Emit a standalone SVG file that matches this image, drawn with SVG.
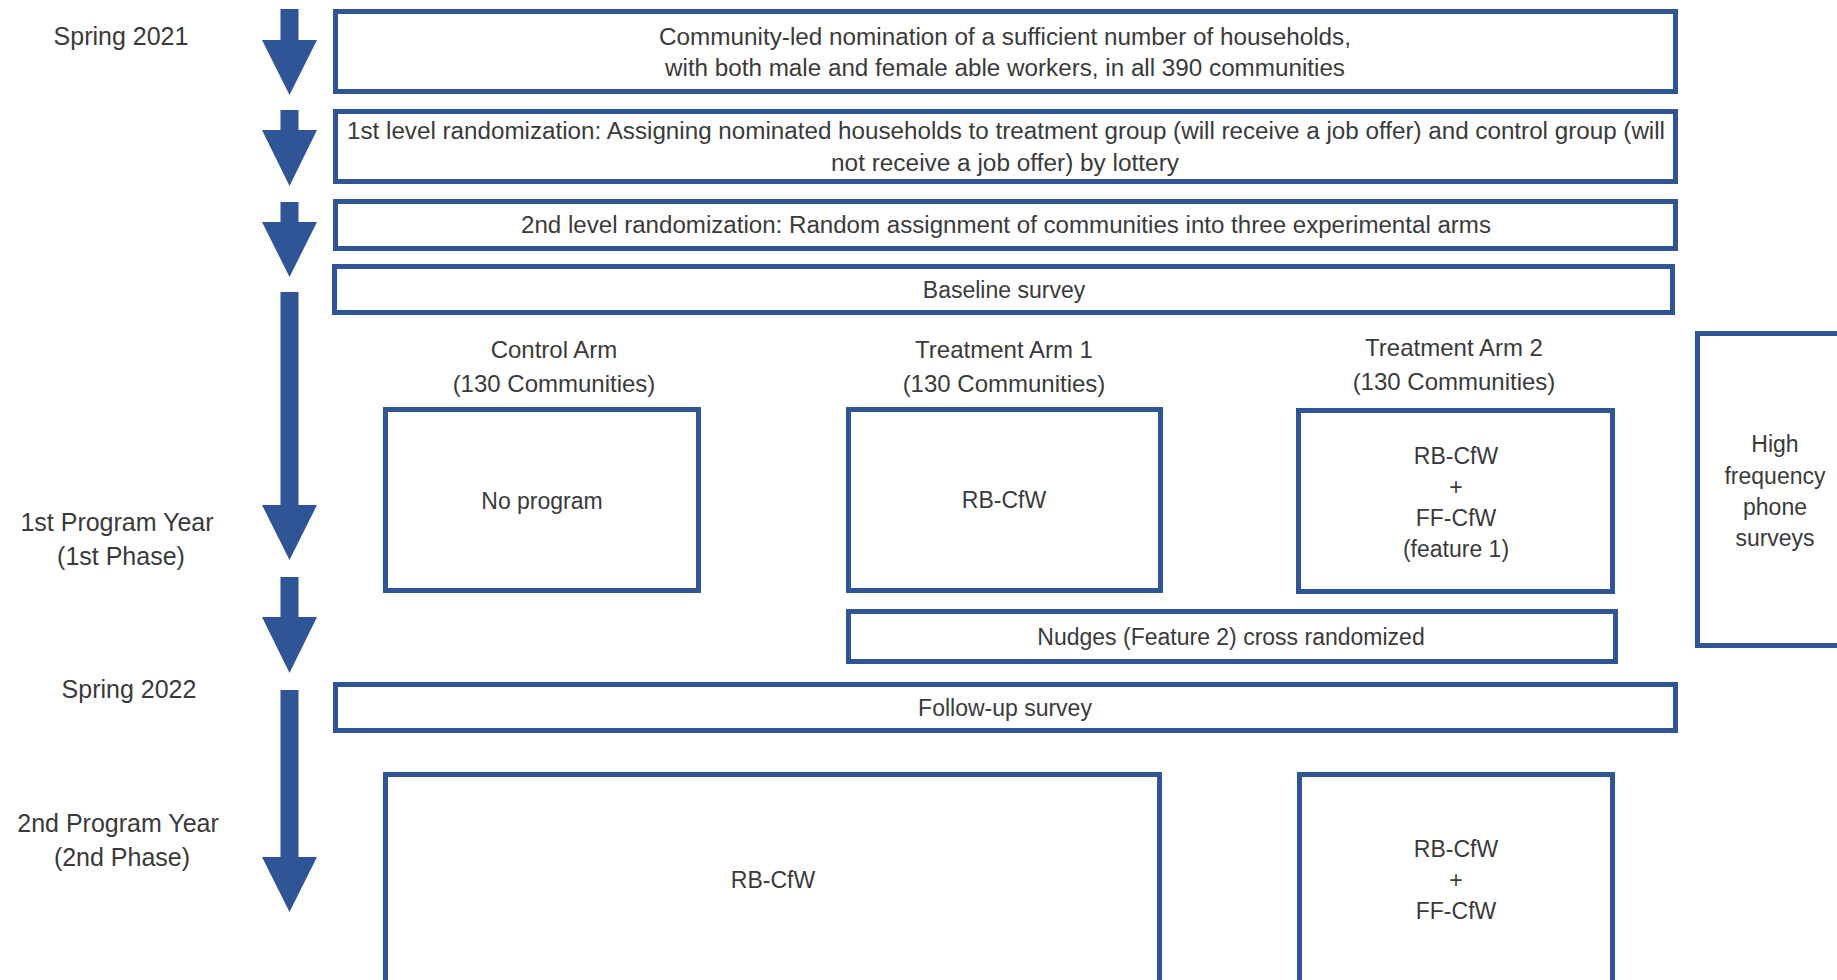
<svg xmlns="http://www.w3.org/2000/svg" width="1837" height="980" viewBox="0 0 1837 980">
<style>
.box{fill:#fff;stroke:#2F5597;stroke-width:5}
.arr{fill:#2F5597}
text{font-family:"Liberation Sans",Arial,sans-serif;fill:#3a3a3a;text-anchor:middle;dominant-baseline:central}
.t{font-size:23px}
.h{font-size:24px}
.l{font-size:25px}
</style>
<rect width="1837" height="980" fill="#fff"/>
<g id="connectors">
<polygon class="arr" points="280.5,9 298.5,9 298.5,40 317,40 289.5,95 262,40 280.5,40"/>
<polygon class="arr" points="280.5,110 298.5,110 298.5,130 317,130 289.5,186 262,130 280.5,130"/>
<polygon class="arr" points="280.5,202 298.5,202 298.5,222 317,222 289.5,277 262,222 280.5,222"/>
<polygon class="arr" points="280.5,292 298.5,292 298.5,505 317,505 289.5,560 262,505 280.5,505"/>
<polygon class="arr" points="280.5,577 298.5,577 298.5,617 317,617 289.5,673 262,617 280.5,617"/>
<polygon class="arr" points="280.5,690 298.5,690 298.5,857 317,857 289.5,912 262,857 280.5,857"/>
</g>
<g id="timeline-labels">
<text class="l" x="121" y="36">Spring 2021</text>
<text class="l" x="117" y="522">1st Program Year</text>
<text class="l" x="121" y="556">(1st Phase)</text>
<text class="l" x="129" y="689">Spring 2022</text>
<text class="l" x="118" y="823">2nd Program Year</text>
<text class="l" x="122" y="857">(2nd Phase)</text>
</g>
<g id="nomination">
<rect class="box" x="335.5" y="11.5" width="1340" height="80"/>
<text class="t" x="1005" y="37" textLength="692" lengthAdjust="spacingAndGlyphs">Community-led nomination of a sufficient number of households,</text>
<text class="t" x="1005" y="68" textLength="680" lengthAdjust="spacingAndGlyphs">with both male and female able workers, in all 390 communities</text>
</g>
<g id="randomization1">
<rect class="box" x="335.5" y="111.5" width="1340" height="70"/>
<text class="t" x="1006" y="131" textLength="1318" lengthAdjust="spacingAndGlyphs">1st level randomization: Assigning nominated households to treatment group (will receive a job offer) and control group (will</text>
<text class="t" x="1005" y="163" textLength="348" lengthAdjust="spacingAndGlyphs">not receive a job offer) by lottery</text>
</g>
<g id="randomization2">
<rect class="box" x="335.5" y="201.5" width="1340" height="47"/>
<text class="t" x="1006" y="225" textLength="970" lengthAdjust="spacingAndGlyphs">2nd level randomization: Random assignment of communities into three experimental arms</text>
</g>
<g id="baseline">
<rect class="box" x="334.5" y="266.5" width="1338" height="46"/>
<text class="t" x="1004" y="290">Baseline survey</text>
</g>
<g id="control-arm">
<text class="h" x="554" y="349">Control Arm</text>
<text class="h" x="554" y="383">(130 Communities)</text>
<rect class="box" x="385.5" y="409.5" width="313" height="181"/>
<text class="t" x="542" y="501">No program</text>
</g>
<g id="treatment-arm-1">
<text class="h" x="1004" y="349">Treatment Arm 1</text>
<text class="h" x="1004" y="383">(130 Communities)</text>
<rect class="box" x="848.5" y="409.5" width="312" height="181"/>
<text class="t" x="1004" y="500">RB-CfW</text>
</g>
<g id="treatment-arm-2">
<text class="h" x="1454" y="347">Treatment Arm 2</text>
<text class="h" x="1454" y="381">(130 Communities)</text>
<rect class="box" x="1298.5" y="410.5" width="314" height="181"/>
<text class="t" x="1456" y="456">RB-CfW</text>
<text class="t" x="1456" y="487">+</text>
<text class="t" x="1456" y="518">FF-CfW</text>
<text class="t" x="1456" y="549">(feature 1)</text>
</g>
<g id="nudges">
<rect class="box" x="848.5" y="611.5" width="767" height="50"/>
<text class="t" x="1231" y="637">Nudges (Feature 2) cross randomized</text>
</g>
<g id="high-frequency">
<rect class="box" x="1697.5" y="333.5" width="200" height="312"/>
<text class="t" x="1775" y="444">High</text>
<text class="t" x="1775" y="476">frequency</text>
<text class="t" x="1775" y="507">phone</text>
<text class="t" x="1775" y="538">surveys</text>
</g>
<g id="follow-up">
<rect class="box" x="335.5" y="684.5" width="1340" height="46"/>
<text class="t" x="1005" y="708">Follow-up survey</text>
</g>
<g id="phase2-rb">
<rect class="box" x="385.5" y="774.5" width="774" height="260"/>
<text class="t" x="773" y="880">RB-CfW</text>
</g>
<g id="phase2-rb-ff">
<rect class="box" x="1299.5" y="774.5" width="313" height="260"/>
<text class="t" x="1456" y="849">RB-CfW</text>
<text class="t" x="1456" y="880">+</text>
<text class="t" x="1456" y="911">FF-CfW</text>
</g>
</svg>
